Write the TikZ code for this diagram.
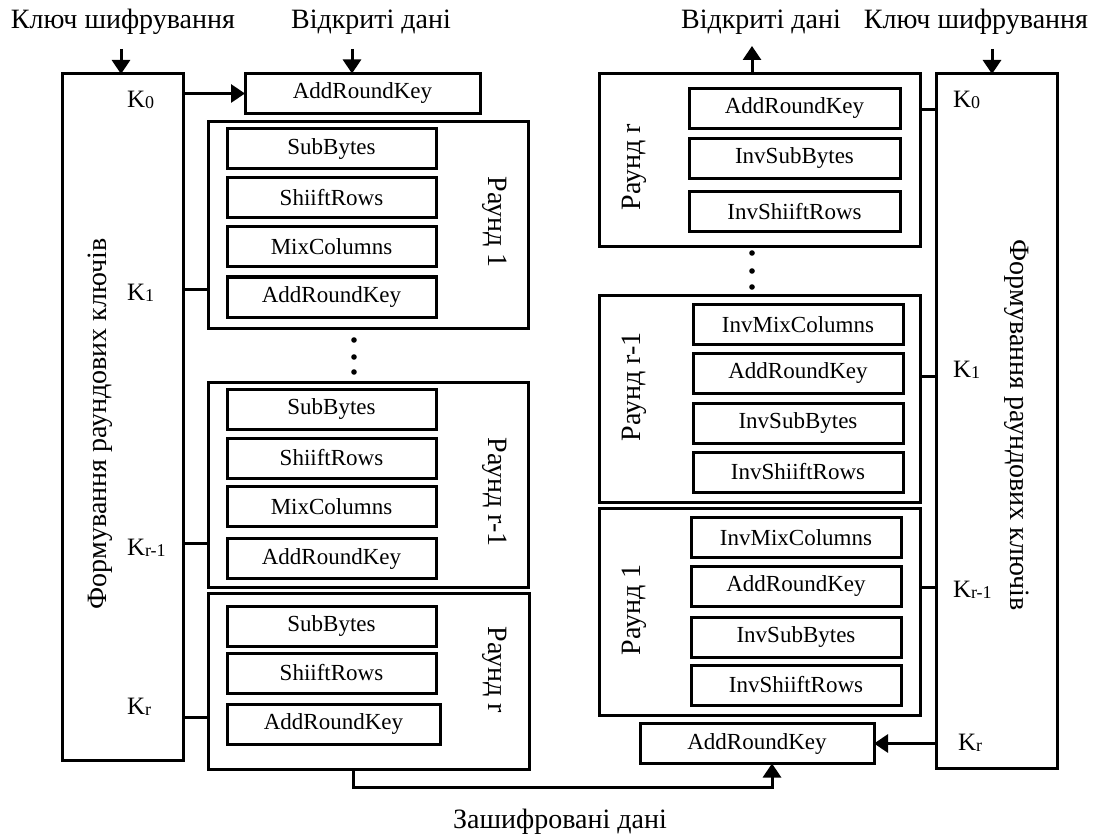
\documentclass[tikz,border=0pt]{standalone}
\usepackage{fontspec}
\setmainfont{Liberation Serif}
\usetikzlibrary{arrows.meta}
% key index: K with a small, slightly lowered index
\newcommand{\keyidx}[1]{K{\fontsize{18}{18}\selectfont\raisebox{-1.5pt}{#1}}}
\begin{document}
\begin{tikzpicture}[x=1pt,y=-1pt,
  every node/.style={inner sep=0pt, outer sep=0pt},
  frame/.style={draw, line width=3pt, rectangle},
  opbox/.style={draw, line width=3pt, minimum height=40pt,
    font=\fontsize{23}{25}\selectfont},
  lbl/.style={font=\fontsize{28}{30}\selectfont},
  klbl/.style={anchor=west, font=\fontsize{25}{27}\selectfont},
  wire/.style={line width=3pt},
  arr/.style={line width=3pt, -{Triangle[width=18pt,length=14pt]}}
]
\useasboundingbox (0,0) rectangle (1113,834);

% ---------------- encryption (left) ----------------
\node[frame, minimum width=121pt, minimum height=686pt] (lkey) at (123.25,417) {};
\node[lbl, rotate=90] (lkeyT) at (100,424) {Формування раундових ключів};

\node[lbl] (keyinL) at (123,22) {Ключ шифрування};
\node[lbl] (dataIn) at (371,22) {Відкриті дані};

\node[opbox, minimum width=235pt] (arkTop) at (362.5,93.5) {AddRoundKey};

% round 1
\node[frame, minimum width=320pt, minimum height=206pt] (r1L) at (368,225) {};
\node[opbox, minimum width=209pt] (l1a) at (331.5,149) {SubBytes};
\node[opbox, minimum width=209pt] (l1b) at (331.5,198) {ShiiftRows};
\node[opbox, minimum width=209pt] (l1c) at (331.5,247) {MixColumns};
\node[opbox, minimum width=209pt] (l1d) at (331.5,297) {AddRoundKey};
\node[lbl, rotate=-90] (r1Lt) at (495,222) {Раунд 1};

% round r-1
\node[frame, minimum width=320pt, minimum height=205pt] (rmL) at (368,484.5) {};
\node[opbox, minimum width=209pt] (lma) at (331.5,409.5) {SubBytes};
\node[opbox, minimum width=209pt] (lmb) at (331.5,458) {ShiiftRows};
\node[opbox, minimum width=209pt] (lmc) at (331.5,506.5) {MixColumns};
\node[opbox, minimum width=209pt] (lmd) at (331.5,558.5) {AddRoundKey};
\node[lbl, rotate=-90] (rmLt) at (495,492) {Раунд r-1};

% round r
\node[frame, minimum width=321pt, minimum height=176pt] (rrL) at (368.5,681) {};
\node[opbox, minimum width=209pt] (lra) at (331.5,626) {SubBytes};
\node[opbox, minimum width=209pt] (lrb) at (331.5,673) {ShiiftRows};
\node[opbox, minimum width=213pt] (lrc) at (333.5,724) {AddRoundKey};
\node[lbl, rotate=-90] (rrLt) at (495,670) {Раунд r};

% round keys
\node[klbl] (k0L) at (127,100) {\keyidx{0}};
\node[klbl] (k1L) at (127,293) {\keyidx{1}};
\node[klbl] (kmL) at (127,548) {\keyidx{r-1}};
\node[klbl] (krL) at (127,707) {\keyidx{r}};

\fill (354,340) circle (2.8pt) (354,357) circle (2.8pt) (354,372) circle (2.8pt);

% ---------------- decryption (right) ----------------
\node[frame, minimum width=121pt, minimum height=694pt] (rkey) at (996.5,421) {};
\node[lbl, rotate=-90] (rkeyT) at (1017,425) {Формування раундових ключів};

\node[lbl] (dataOut) at (761,22) {Відкриті дані};
\node[lbl] (keyinR) at (976,22) {Ключ шифрування};

% round r
\node[frame, minimum width=321pt, minimum height=173pt] (rrR) at (759.5,160.5) {};
\node[opbox, minimum width=211pt] (rra) at (794.5,108.5) {AddRoundKey};
\node[opbox, minimum width=211pt] (rrb) at (794.5,158.5) {InvSubBytes};
\node[opbox, minimum width=211pt] (rrc) at (794.5,211.5) {InvShiiftRows};
\node[lbl, rotate=90] (rrRt) at (634,167) {Раунд r};

% round r-1
\node[frame, minimum width=321pt, minimum height=207pt] (rmR) at (759.5,398.5) {};
\node[opbox, minimum width=210pt] (rma) at (798,324.5) {InvMixColumns};
\node[opbox, minimum width=210pt] (rmb) at (798,373) {AddRoundKey};
\node[opbox, minimum width=210pt] (rmc) at (798,423) {InvSubBytes};
\node[opbox, minimum width=210pt] (rmd) at (798,472) {InvShiiftRows};
\node[lbl, rotate=90] (rmRt) at (634,387) {Раунд r-1};

% round 1
\node[frame, minimum width=321pt, minimum height=207pt] (r1R) at (759.5,611.5) {};
\node[opbox, minimum width=210pt] (r1a) at (796,537.5) {InvMixColumns};
\node[opbox, minimum width=210pt] (r1b) at (796,586) {AddRoundKey};
\node[opbox, minimum width=210pt] (r1c) at (796,637) {InvSubBytes};
\node[opbox, minimum width=210pt] (r1d) at (796,685) {InvShiiftRows};
\node[lbl, rotate=90] (r1Rt) at (634,610) {Раунд 1};

\node[opbox, minimum width=234pt] (arkBot) at (757,743.5) {AddRoundKey};

% round keys
\node[klbl] (k0R) at (953,100) {\keyidx{0}};
\node[klbl] (k1R) at (953,370) {\keyidx{1}};
\node[klbl] (kmR) at (953,590) {\keyidx{r-1}};
\node[klbl] (krR) at (958,743) {\keyidx{r}};

\fill (752,253) circle (2.8pt) (752,271) circle (2.8pt) (752,287) circle (2.8pt);

\node[lbl] (cipher) at (560,822) {Зашифровані дані};

% ---------------- connectors ----------------
\coordinate (kinL) at (121,49);
\coordinate (din) at (352,49);
\coordinate (dout) at (752,46);
\coordinate (kinR) at (992,49);
\draw[arr] (kinL) -- (kinL |- lkey.north);
\draw[arr] (din) -- (din |- arkTop.north);
\draw[arr] (dout |- rrR.north) -- (dout);
\draw[arr] (kinR) -- (kinR |- rkey.north);

\draw[arr] (lkey.east |- arkTop.west) -- (arkTop.west);
\coordinate (yk1L) at (0,289);
\coordinate (ykmL) at (0,543);
\coordinate (ykrL) at (0,717);
\draw[wire] (lkey.east |- yk1L) -- (r1L.west |- yk1L);
\draw[wire] (lkey.east |- ykmL) -- (rmL.west |- ykmL);
\draw[wire] (lkey.east |- ykrL) -- (rrL.west |- ykrL);

\coordinate (yk0R) at (0,110);
\coordinate (yk1R) at (0,376);
\coordinate (ykmR) at (0,587);
\draw[wire] (rrR.east |- yk0R) -- (rkey.west |- yk0R);
\draw[wire] (rmR.east |- yk1R) -- (rkey.west |- yk1R);
\draw[wire] (r1R.east |- ykmR) -- (rkey.west |- ykmR);
\draw[arr] (rkey.west |- arkBot.east) -- (arkBot.east);

\coordinate (outx) at (353,0);
\coordinate (inx) at (772,0);
\coordinate (bus) at (0,787);
\draw[arr] (outx |- rrL.south) -- (outx |- bus) -- (inx |- bus) -- (inx |- arkBot.south);
\end{tikzpicture}
\end{document}
